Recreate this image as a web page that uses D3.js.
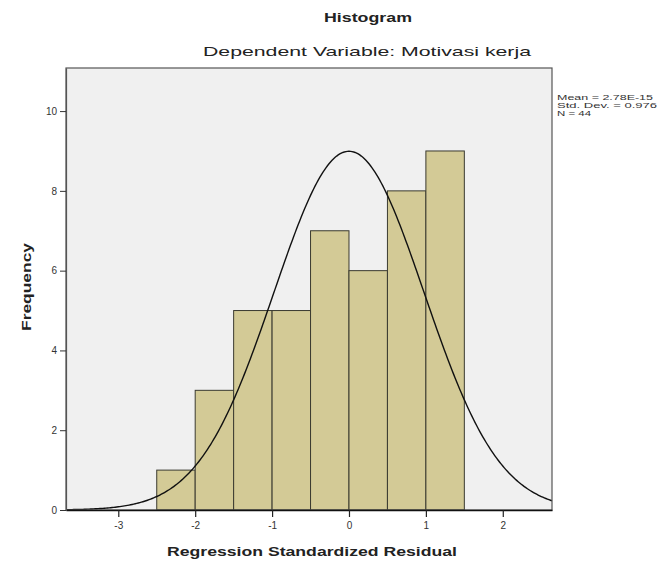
<!DOCTYPE html>
<html>
<head>
<meta charset="utf-8">
<script src="https://cdn.jsdelivr.net/npm/d3@7"></script>
<style>
  body { margin: 0; background: #fff; }
  text { font-family: Arial, "Liberation Sans", sans-serif; }
</style>
</head>
<body>
<script>
// histogram of residuals, SPSS style

//---- data
const binStarts = [-2.5, -2, -1.5, -1, -0.5, 0, 0.5, 1];
const binWidth = 0.5;
const counts = [1, 3, 5, 5, 7, 6, 8, 9];
const xTicks = [-3, -2, -1, 0, 1, 2];
const yTicks = [0, 2, 4, 6, 8, 10];
const statLines = ["Mean = 2.78E-15", "Std. Dev. = 0.976", "N = 44"];
const statWidths = [96, 100, 34];
const resMean = 0;
const resSd = 0.976;
const resN = 44;

//---- drawing parameters
const W = 659, H = 566;
const plotL = 66, plotR = 552, plotT = 68, plotB = 510;

const svg = d3.select("body").append("svg")
  .attr("width", W)
  .attr("height", H);

const x = d3.scaleLinear().domain([-3.68, 2.64]).range([plotL, plotR]);
const y = d3.scaleLinear().domain([0, 11.08]).range([plotB, plotT]);

// plot background
svg.append("rect")
  .attr("x", plotL).attr("y", plotT)
  .attr("width", plotR - plotL).attr("height", plotB - plotT)
  .attr("fill", "#f0f0f0");

// bars
svg.selectAll("rect.bar")
    .data(binStarts)
    .enter()
  .append("rect")
    .attr("class", "bar")
    .attr("x", d => x(d))
    .attr("width", d => x(d + binWidth) - x(d))
    .attr("y", (d, i) => y(counts[i]))
    .attr("height", (d, i) => y(0) - y(counts[i]))
    .attr("fill", "#d3ca96")
    .attr("stroke", "#3a3a30")
    .attr("stroke-width", 1);

// normal curve from the stats shown in the legend
const curvePts = d3.range(-3.68, 2.645, 0.02).map(v => {
  const dens = Math.exp(-0.5 * Math.pow((v - resMean) / resSd, 2)) / (resSd * Math.sqrt(2 * Math.PI));
  return [v, resN * binWidth * dens];
});
svg.append("path")
  .datum(curvePts)
  .attr("fill", "none")
  .attr("stroke", "#111")
  .attr("stroke-width", 1.4)
  .attr("d", d3.line().x(d => x(d[0])).y(d => y(d[1])));

// frame
svg.append("rect")
  .attr("x", plotL).attr("y", plotT)
  .attr("width", plotR - plotL).attr("height", plotB - plotT)
  .attr("fill", "none")
  .attr("stroke", "#555")
  .attr("stroke-width", 1.2);

// axes
const xAxis = svg.append("g")
  .attr("transform", `translate(0,${plotB})`)
  .call(d3.axisBottom(x).tickValues(xTicks).tickFormat(d => String(d))
    .tickSize(7).tickSizeOuter(0).tickPadding(5));
xAxis.select(".domain").attr("stroke", "#111").attr("stroke-width", 1.5);
xAxis.selectAll(".tick line").attr("stroke", "#222").attr("stroke-width", 1.2);
xAxis.selectAll("text").attr("font-size", 10).attr("fill", "#333");

const yAxis = svg.append("g")
  .attr("transform", `translate(${plotL},0)`)
  .call(d3.axisLeft(y).tickValues(yTicks).tickFormat(d => String(d))
    .tickSize(6).tickSizeOuter(0).tickPadding(3));
yAxis.select(".domain").attr("stroke", "#555").attr("stroke-width", 1.2);
yAxis.selectAll(".tick line").attr("stroke", "#333");
yAxis.selectAll("text").attr("font-size", 10).attr("fill", "#333");

// titles (the reference text is stretched sideways, so fix the lengths)
svg.append("text")
  .attr("x", 368).attr("y", 22)
  .attr("text-anchor", "middle")
  .attr("font-size", 13).attr("font-weight", "bold")
  .attr("textLength", 88).attr("lengthAdjust", "spacingAndGlyphs")
  .attr("fill", "#222")
  .text("Histogram");

svg.append("text")
  .attr("x", 367).attr("y", 56)
  .attr("text-anchor", "middle")
  .attr("font-size", 13)
  .attr("textLength", 328).attr("lengthAdjust", "spacingAndGlyphs")
  .attr("fill", "#222")
  .text("Dependent Variable: Motivasi kerja");

svg.append("text")
  .attr("x", 312).attr("y", 556)
  .attr("text-anchor", "middle")
  .attr("font-size", 13).attr("font-weight", "bold")
  .attr("textLength", 290).attr("lengthAdjust", "spacingAndGlyphs")
  .attr("fill", "#222")
  .text("Regression Standardized Residual");

svg.append("text")
  .attr("transform", "translate(31,287) rotate(-90)")
  .attr("text-anchor", "middle")
  .attr("font-size", 13).attr("font-weight", "bold")
  .attr("textLength", 88).attr("lengthAdjust", "spacingAndGlyphs")
  .attr("fill", "#222")
  .text("Frequency");

// legend stats
svg.selectAll("text.stat")
    .data(statLines)
    .enter()
  .append("text")
    .attr("class", "stat")
    .attr("x", 557)
    .attr("y", (d, i) => 100 + i * 8)
    .attr("font-size", 7)
    .attr("textLength", (d, i) => statWidths[i])
    .attr("lengthAdjust", "spacingAndGlyphs")
    .attr("fill", "#333")
    .text(d => d);
</script>
</body>
</html>
